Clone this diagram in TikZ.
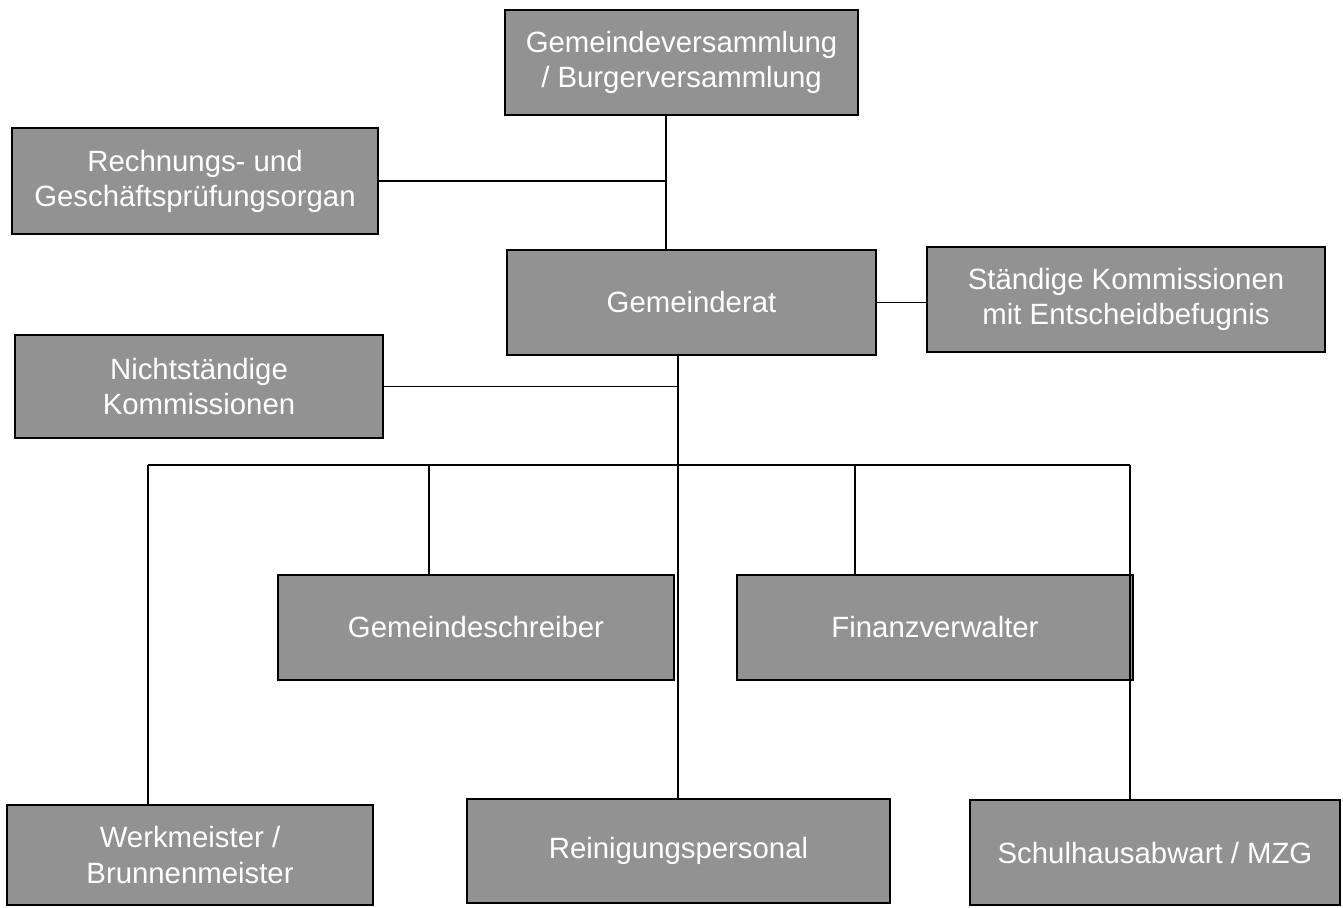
\documentclass[tikz,border=0pt]{standalone}
\usepackage{xcolor}
\usepackage{fontspec}
\setmainfont{Liberation Sans}
\usepackage{tikz}
\usetikzlibrary{calc}
\definecolor{boxgray}{RGB}{146,146,146}
\tikzset{orgbox/.style={draw=black, line width=1.2pt, fill=boxgray, text=white, align=center,
  inner sep=0pt, font=\fontsize{16.7}{20}\selectfont},
  link/.style={black, line width=0.7pt}}

\begin{document}
\begin{tikzpicture} [x=0.02cm, y=-0.02cm]
\useasboundingbox (0,0) rectangle (1343,907);
% boxes
\node[orgbox, minimum width=353*0.02cm, minimum height=105*0.02cm] (versamm) at (681.5,62.5) {Gemeindeversammlung\\/ Burgerversammlung};
\node[orgbox, minimum width=366*0.02cm, minimum height=106*0.02cm] (rechnung) at (195,181) {Rechnungs- und\\Geschäftsprüfungsorgan};
\node[orgbox, minimum width=369*0.02cm, minimum height=105*0.02cm] (rat) at (691.5,302.5) {Gemeinderat};
\node[orgbox, minimum width=398*0.02cm, minimum height=105*0.02cm] (staendig) at (1126,299.5) {Ständige Kommissionen\\mit Entscheidbefugnis};
\node[orgbox, minimum width=368*0.02cm, minimum height=103*0.02cm] (nicht) at (199,386.5) {Nichtständige\\Kommissionen};
\node[orgbox, minimum width=396*0.02cm, minimum height=105*0.02cm] (schreiber) at (476,627.5) {Gemeindeschreiber};
\node[orgbox, minimum width=396*0.02cm, minimum height=105*0.02cm] (finanz) at (935,627.5) {Finanzverwalter};
\node[orgbox, minimum width=366*0.02cm, minimum height=100*0.02cm] (werk) at (190,855) {Werkmeister /\\Brunnenmeister};
\node[orgbox, minimum width=423*0.02cm, minimum height=104*0.02cm] (reinigung) at (678.5,851) {Reinigungspersonal};
\node[orgbox, minimum width=370*0.02cm, minimum height=105*0.02cm] (schulhaus) at (1155,852.5) {Schulhausabwart / MZG};
% junctions
\coordinate (j1) at (666,181);
\coordinate (j2) at (678,386.5);
\coordinate (bus) at (678,465);
\coordinate (busL) at (148,465);
\coordinate (busR) at (1130,465);
% connectors
\draw[link] (versamm.south -| j1) -- (rat.north -| j1);
\draw[link] (rechnung.east) -- (j1);
\draw[link] (rat.east) -- (rat.east -| staendig.west);
\draw[link] (rat.south -| j2) -- (j2) -- (bus) -- (reinigung.north -| bus);
\draw[link] (nicht.east) -- (j2);
\draw[link] (busL) -- (busR);
\foreach \n/\x in {werk/148, schreiber/429, finanz/855, schulhaus/1130} {
 \coordinate (drop) at (\x,465);
 \draw[link] (drop) -- (\n.north -| drop);
}
\end{tikzpicture}
\end{document}
